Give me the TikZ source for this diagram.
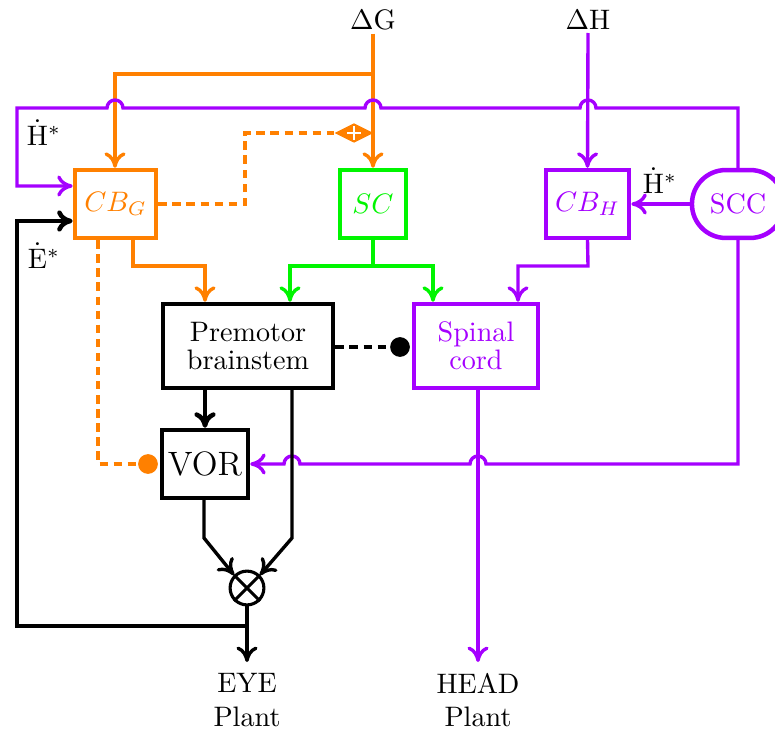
\documentclass[tikz,border=0pt]{standalone}
\usetikzlibrary{arrows.meta,shapes.geometric,calc}
\definecolor{cor}{RGB}{255,128,0}
\definecolor{cgr}{RGB}{0,245,0}
\definecolor{cpu}{RGB}{165,0,255}
\begin{document}
\begin{tikzpicture}[x=0.355pt,y=-0.355pt,
  box/.style={draw,line width=1.6pt,minimum height=24.1pt,inner sep=1pt,align=center},
  ln/.style={line width=1.2pt},
  arr/.style={ln,-{To[length=5.5pt,width=7.5pt]}},
  dsh/.style={ln,dash pattern=on 3pt off 2pt},
  dotend/.style={circle,fill,inner sep=0pt,minimum size=7pt},
  lbl/.style={inner sep=1pt}]
\useasboundingbox (0,0) rectangle (775,731);
% nodes
\node[box,draw=cor,text=cor,minimum width=28.8pt] (cbg) at (115.5,204) {$CB_G$};
\node[box,draw=cgr,text=cgr,minimum width=23.4pt] (sc) at (373,204) {$SC$};
\node[box,draw=cpu,text=cpu,minimum width=29.5pt] (cbh) at (587.5,204) {$CB_H$};
\node[box,draw=cpu,text=cpu,minimum width=32.7pt,rounded corners=12pt] (scc) at (738,204) {SCC};
\node[box,minimum width=60.4pt,minimum height=29.8pt] (pm) at (248,346) {Premotor\\[-2pt]brainstem};
\node[box,draw=cpu,text=cpu,minimum width=44pt,minimum height=29.8pt] (sp) at (476,346) {Spinal\\[-2pt]cord};
\node[box,minimum width=30.5pt,font=\large] (vor) at (205,464) {VOR};
\node[circle,draw,line width=1.1pt,minimum size=12pt,inner sep=0pt] (mul) at (247,588) {};
\draw[line width=1.1pt] (mul.north west)--(mul.south east) (mul.north east)--(mul.south west);
\node[lbl] (dg) at (373,20) {$\Delta$G};
\node[lbl] (dh) at (588,20) {$\Delta$H};
\node[lbl] (h1) at (44,133) {$\dot{\mathrm{H}}^*$};
\node[lbl] (h2) at (660,181) {$\dot{\mathrm{H}}^*$};
\node[lbl] (e1) at (44,256) {$\dot{\mathrm{E}}^*$};
\node[lbl,align=center] (eye) at (247,700) {EYE\\Plant};
\node[lbl,align=center] (head) at (478,700) {HEAD\\Plant};
\node[diamond,fill=cor,minimum width=14pt,minimum height=7pt,inner sep=0pt,aspect=2] (sum) at (354,133) {};
\draw[white,line width=0.7pt] ($(sum)+(-7,0)$) -- ($(sum)+(7,0)$) ($(sum)+(0,-7)$) -- ($(sum)+(0,7)$);
\node[dotend,text=black] (bdot) at (400,347) {};
\node[dotend,cor] (odot) at (148,464) {};
\coordinate (eyein) at (247,662);
\coordinate (headin) at (478,662);
% orange
\draw[arr,cor] (dg.south) -- (sc.north);
\draw[arr,cor] (373,74) -- (115,74) -- (cbg.north -| 115,0);
\draw[arr,cor] (cbg.south -| 133,0) -- (133,266) -- (205,266) -- (pm.north -| 205,0);
\draw[dsh,cor] (cbg.east) -- (245,204) -- (245,133) -- (sum.west);
\draw[dsh,cor] (cbg.south -| 98,0) -- (98,464) -- (odot.west);
% green
\draw[ln,cgr] (sc.south) -- (373,266);
\draw[arr,cgr] (373,266) -- (290,266) -- (pm.north -| 290,0);
\draw[arr,cgr] (373,266) -- (433,266) -- (sp.north -| 433,0);
% purple
\draw[arr,cpu] (dh.south) -- (cbh.north);
\draw[arr,cpu] (scc.north) -- (738,108) -- (596,108) arc[start angle=0,end angle=-180,radius=8]
  -- (381,108) arc[start angle=0,end angle=-180,radius=8]
  -- (123,108) arc[start angle=0,end angle=-180,radius=8]
  -- (17,108) -- (17,186) -- (cbg.west |- 0,186);
\draw[arr,cpu] (scc.west) -- (cbh.east);
\draw[arr,cpu] (cbh.south) -- (588,266) -- (518,266) -- (sp.north -| 518,0);
\draw[arr,cpu] (scc.south) -- (738,464) -- (486,464) arc[start angle=0,end angle=-180,radius=8]
  -- (300,464) arc[start angle=0,end angle=-180,radius=8] -- (vor.east);
\draw[arr,cpu] (sp.south -| 478,0) -- (headin);
% black
\draw[dsh,black] (pm.east |- 0,347) -- (bdot.west);
\draw[arr,line width=1.6pt] (pm.south -| 205,0) -- (vor.north);
\draw[arr] (pm.south -| 292,0) -- (292,538) -- (mul.north east);
\draw[arr] (vor.south -| 204,0) -- (204,538) -- (mul.north west);
\draw[arr] (mul.south) -- (eyein);
\draw[arr,line width=1.6pt] (247,626) -- (17,626) -- (17,221) -- (cbg.west |- 0,221);
\end{tikzpicture}
\end{document}
